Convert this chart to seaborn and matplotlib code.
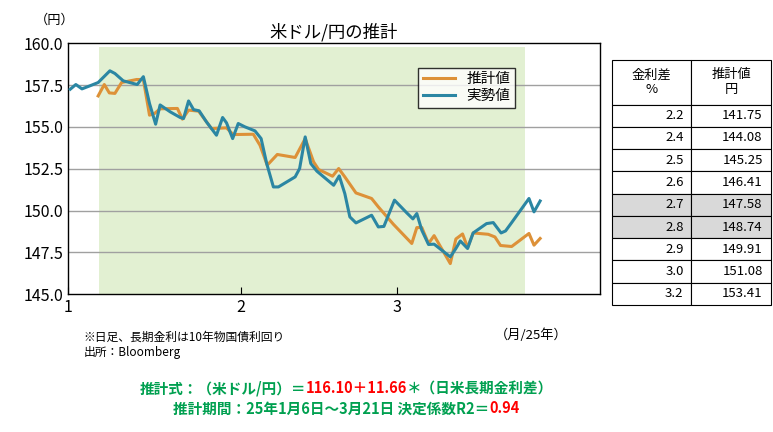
import matplotlib
matplotlib.use("Agg")
import matplotlib.pyplot as plt
import seaborn as sns
import pandas as pd

jp = "Noto Sans CJK JP"
plt.rcParams["font.family"] = [jp, "DejaVu Sans"]

# days since Jan 1
actual_day = [0.4,1.4,2.5,3.9,5.4,7.5,8.4,9.9,12.4,13.5,14.6,15.7,16.5,18.3,20.1,20.7,21.6,22.5,23.5,24.8,
              26.6,27.7,28.4,29.5,30.5,31.7,33.5,34.6,35.6,36.8,37.7,40.7,41.5,42.5,43.5,44.6,47.6,48.6,49.6,50.5,
              51.6,54.4,55.6,56.6,58.5,60.7,61.8,62.5,63.4,64.6,65.6,68.5,69.5,70.3,71.6,72.6,75.0,76.2,77.6,78.4,
              79.5,82.6,83.5,84.6]
actual_val = [157.25,157.53,157.27,157.45,157.65,158.35,158.19,157.75,157.53,158.0,156.4,155.16,156.31,155.9,155.56,155.5,156.55,156.03,155.96,155.3,
              154.5,155.56,155.24,154.3,155.2,155.0,154.76,154.3,152.81,151.41,151.41,152.01,152.51,154.4,152.81,152.35,151.51,152.07,151.01,149.62,
              149.26,149.72,149.02,149.05,150.62,149.86,149.5,149.82,148.82,147.97,147.99,147.23,147.73,148.18,147.73,148.66,149.22,149.28,148.66,148.78,
              149.28,150.72,149.92,150.57]
est_day = [5.4,6.5,7.4,8.4,9.6,12.3,13.5,14.6,15.5,16.5,19.6,20.5,21.6,23.4,25.7,28.4,29.6,33.2,34.4,35.7,
           37.5,40.7,42.5,44.0,44.9,47.4,48.5,49.6,51.6,54.4,55.6,58.3,61.6,62.5,63.4,64.6,65.6,68.5,69.5,70.7,
           71.6,72.6,75.3,76.5,77.5,79.5,82.6,83.5,84.6]
est_val = [156.85,157.53,157.03,157.0,157.65,157.83,157.83,155.7,155.8,156.08,156.1,155.46,156.0,155.94,154.9,154.94,154.54,154.56,153.9,152.71,
           153.35,153.17,154.3,152.91,152.45,152.05,152.51,152.01,151.05,150.72,150.22,149.18,148.03,148.98,148.98,148.03,148.5,146.83,148.3,148.6,
           147.79,148.66,148.58,148.42,147.91,147.85,148.63,147.93,148.33]
month_ticks = [0, 31, 59]
month_labels = ["1", "2", "3"]
shade_start, shade_end = 5.5, 81.9
spread = ["2.2","2.4","2.5","2.6","2.7","2.8","2.9","3.0","3.2"]
est_yen = ["141.75","144.08","145.25","146.41","147.58","148.74","149.91","151.08","153.41"]

fig = plt.figure(figsize=(7.73, 4.32), dpi=100)
ax = fig.add_axes([0.088, 0.319, 0.688, 0.581])
ax.axvspan(shade_start, shade_end, ymin=0.0, ymax=0.985, color="#E2F0D2", lw=0, zorder=0)
for v in [147.5,150,152.5,155,157.5]:
    ax.axhline(v, color="#A0A0A0", lw=1, zorder=1)
sns.lineplot(data=pd.DataFrame({"d": est_day, "v": est_val}), x="d", y="v", ax=ax,
             color="#DD9138", lw=2.2, label="推計値", zorder=3)
sns.lineplot(data=pd.DataFrame({"d": actual_day, "v": actual_val}), x="d", y="v", ax=ax,
             color="#2B86A3", lw=2.2, label="実勢値", zorder=4)
ax.set_xlim(0, 95.3)
ax.set_ylim(145, 160)
yt = [145,147.5,150,152.5,155,157.5,160]
ax.set_yticks(yt)
ax.set_yticklabels([f"{v:.1f}" for v in yt], fontsize=11.5)
ax.set_xticks(month_ticks)
ax.set_xticklabels(month_labels, fontsize=11.5)
ax.tick_params(axis="y", length=0)
ax.tick_params(axis="x", length=5, direction="in")
ax.set_xlabel(""); ax.set_ylabel("")
for s in ax.spines.values():
    s.set_color("black"); s.set_linewidth(1)
leg = ax.legend(loc="upper left", bbox_to_anchor=(0.645, 0.93), frameon=True, fancybox=False,
                fontsize=10.5, handlelength=2.2, borderpad=0.3, labelspacing=0.2)
leg.get_frame().set_edgecolor("black")
ax.set_title("米ドル/円の推計", fontsize=12.5, pad=4)
fig.text(0.045, 0.945, "（円）", fontsize=9.5)
fig.text(0.64, 0.215, "（月/25年）", fontsize=9.5)
fig.text(0.108, 0.212, "※日足、長期金利は10年物国債利回り", fontsize=8.5)
fig.text(0.108, 0.177, "出所：Bloomberg", fontsize=8.5)

# table
tax = fig.add_axes([0.792, 0.294, 0.205, 0.567])
tax.axis("off")
cells = [[s, e] for s, e in zip(spread, est_yen)]
tbl = tax.table(cellText=cells, colLabels=["金利差\n%", "推計値\n円"], loc="upper center",
                cellLoc="right", bbox=[0, 0, 1, 1])
tbl.auto_set_font_size(False)
n = len(cells) + 1
for (r, c), cell in tbl.get_celld().items():
    cell.set_fontsize(9.5)
    cell.set_edgecolor("black")
    cell.set_linewidth(0.8)
    cell.set_height(2 / (n + 1) if r == 0 else 1 / (n + 1))
    if r == 0:
        cell.get_text().set_ha("center"); cell._loc = "center"
    if r in (5, 6):
        cell.set_facecolor("#D9D9D9")

# formula lines
green, red = "#00A050", "#FF0000"
fig.canvas.draw()
rend = fig.canvas.get_renderer()
def chain(parts, y, xc):
    texts = []
    x = 0
    for s, col in parts:
        t = fig.text(x, y, s, color=col, fontsize=10.5, fontweight="bold")
        w = t.get_window_extent(rend).width / fig.bbox.width
        texts.append((t, w))
        x += w
    x = xc - x / 2
    for t, w in texts:
        t.set_x(x); x += w
chain([("推計式：（米ドル/円）＝", green), ("116.10＋11.66", red), ("＊（日米長期金利差）", green)], 0.09, 0.448)
chain([("推計期間：25年1月6日～3月21日 決定係数R2＝", green), ("0.94", red)], 0.043, 0.448)
fig.savefig("out.png", dpi=100)
